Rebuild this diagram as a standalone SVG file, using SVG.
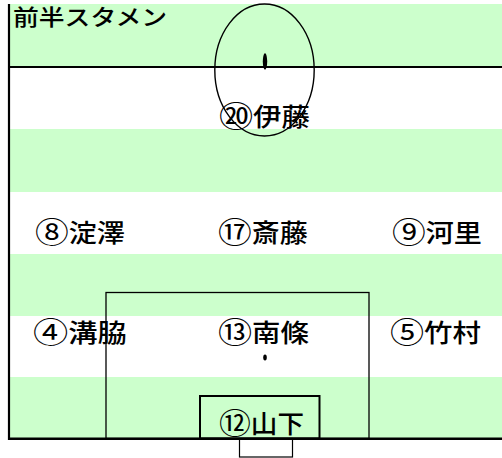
<svg xmlns="http://www.w3.org/2000/svg" width="502" height="458" viewBox="0 0 502 458">
<defs>
<style>
.g{fill:#CCFFCC;stroke:none}
.ln{fill:none;stroke:#000}
.t{font-family:"Noto Sans CJK JP","Noto Sans CJK SC",sans-serif;font-size:25px;font-weight:500;fill:#000}
.n{font-size:30px;font-weight:400}
.h{font-family:"Noto Sans CJK JP","Noto Sans CJK SC",sans-serif;font-size:22px;font-weight:500;fill:#000}
</style>
</defs>
<rect x="0" y="0" width="502" height="458" fill="#FFFFFF"/>
<g id="field">
<rect class="g" x="9" y="4" width="493" height="63"/>
<rect class="g" x="9" y="129" width="493" height="63"/>
<rect class="g" x="9" y="254" width="493" height="62"/>
<rect class="g" x="9" y="377" width="493" height="61"/>
<rect class="ln" x="106" y="292.5" width="263" height="146" stroke-width="1.3"/>
<rect class="ln" x="200" y="396" width="119.5" height="42.5" stroke-width="2"/>
<rect class="ln" x="239.5" y="438.5" width="53" height="18.5" stroke-width="1.2"/>
<line class="ln" x1="9" y1="4" x2="9" y2="440" stroke-width="2.2"/>
<line class="ln" x1="8" y1="67" x2="502" y2="67" stroke-width="2.2"/>
<line class="ln" x1="8" y1="438.7" x2="502" y2="438.7" stroke-width="2.4"/>
<ellipse class="ln" cx="264.5" cy="70" rx="49.7" ry="66" stroke-width="1.4"/>
<ellipse cx="265" cy="61.5" rx="2.2" ry="8.3" fill="#000"/>
<ellipse cx="265" cy="357.5" rx="1.8" ry="3" fill="#000"/>
</g>
<g id="title"><text class="h" x="13" y="24.5" textLength="154" lengthAdjust="spacingAndGlyphs">前半スタメン</text></g>
<g id="p20"><text class="t" x="219" y="125.5" textLength="91" lengthAdjust="spacingAndGlyphs"><tspan class="n" dy="1.5">⑳</tspan><tspan dy="-1.5">伊藤</tspan></text></g>
<g id="p8"><text class="t" x="35" y="241.5" textLength="90" lengthAdjust="spacingAndGlyphs"><tspan class="n" dy="1.5">⑧</tspan><tspan dy="-1.5">淀澤</tspan></text></g>
<g id="p17"><text class="t" x="218" y="241.5" textLength="90" lengthAdjust="spacingAndGlyphs"><tspan class="n" dy="1.5">⑰</tspan><tspan dy="-1.5">斎藤</tspan></text></g>
<g id="p9"><text class="t" x="392" y="241.5" textLength="90" lengthAdjust="spacingAndGlyphs"><tspan class="n" dy="1.5">⑨</tspan><tspan dy="-1.5">河里</tspan></text></g>
<g id="p4"><text class="t" x="33" y="341.5" textLength="94" lengthAdjust="spacingAndGlyphs"><tspan class="n" dy="1.5">④</tspan><tspan dy="-1.5">溝脇</tspan></text></g>
<g id="p13"><text class="t" x="218" y="341.5" textLength="91" lengthAdjust="spacingAndGlyphs"><tspan class="n" dy="1.5">⑬</tspan><tspan dy="-1.5">南條</tspan></text></g>
<g id="p5"><text class="t" x="390" y="341.5" textLength="91" lengthAdjust="spacingAndGlyphs"><tspan class="n" dy="1.5">⑤</tspan><tspan dy="-1.5">竹村</tspan></text></g>
<g id="p12"><text class="t" x="219" y="432.5" textLength="85" lengthAdjust="spacingAndGlyphs"><tspan class="n" dy="1.5">⑫</tspan><tspan dy="-1.5">山下</tspan></text></g>
</svg>
